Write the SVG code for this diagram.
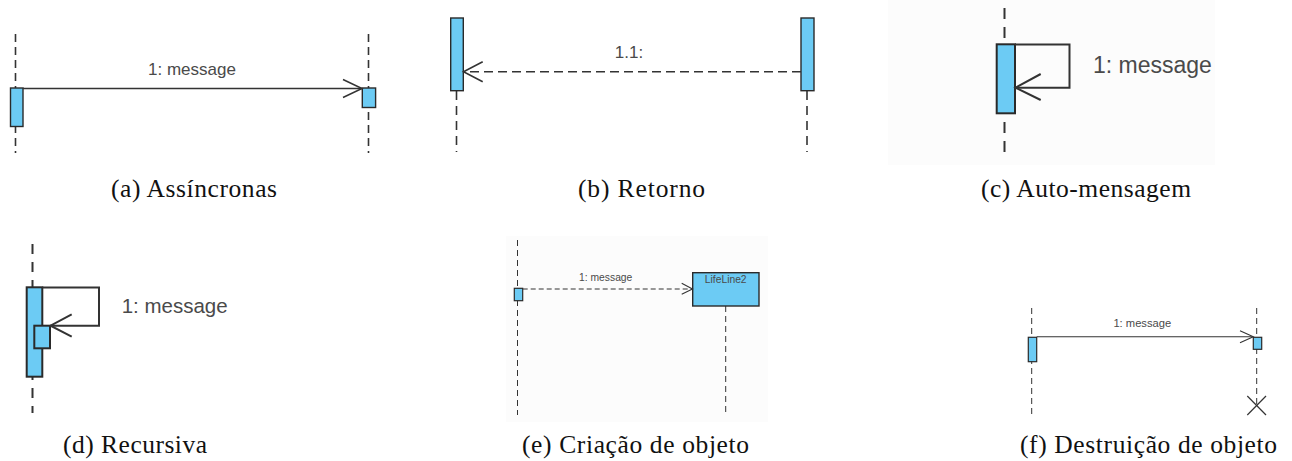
<svg xmlns="http://www.w3.org/2000/svg" width="1292" height="461" viewBox="0 0 1292 461">
<style>
.bg{fill:#fcfcfc;stroke:none}
.act{fill:#6ccbf4;stroke:#2a2a2a}
.ll{fill:none;stroke:#333}
.ln{fill:none;stroke:#333}
.lbl{font-family:"Liberation Sans",Arial,sans-serif;fill:#4a4a4a}
.cap{font-family:"Liberation Serif","DejaVu Serif",serif;font-size:25.5px;fill:#111}
</style>
<rect width="1292" height="461" fill="#ffffff"/>
<g id="backgrounds">
<rect class="bg" x="888" y="0" width="327" height="165"/>
<rect class="bg" x="506" y="236" width="262" height="186"/>
</g>
<!-- Panel a -->
<g id="panel-a">
<g id="a-lifeline1"><line class="ll" x1="15.5" y1="34" x2="15.5" y2="153" stroke-width="1.6" stroke-dasharray="8,5"/><rect class="act" x="10.5" y="88" width="12.5" height="38.5" stroke-width="1.4"/></g>
<g id="a-lifeline2"><line class="ll" x1="368.5" y1="34" x2="368.5" y2="153" stroke-width="1.6" stroke-dasharray="8,5"/><rect class="act" x="362.3" y="88" width="13.3" height="19.5" stroke-width="1.4"/></g>
<g id="a-connectors"><line class="ln" x1="23" y1="88.5" x2="362" y2="88.5" stroke-width="1.5"/><polyline class="ln" points="343,79.5 362,88.5 343,97.5" stroke-width="1.5"/></g>
<text class="lbl" x="192" y="75" font-size="17" text-anchor="middle">1: message</text>
</g>
<!-- Panel b -->
<g id="panel-b">
<g id="b-lifeline1"><line class="ll" x1="456.5" y1="91" x2="456.5" y2="152" stroke-width="1.6" stroke-dasharray="9,6"/><rect class="act" x="450.7" y="18" width="12.6" height="72.7" stroke-width="1.4"/></g>
<g id="b-lifeline2"><line class="ll" x1="807" y1="91" x2="807" y2="152" stroke-width="1.6" stroke-dasharray="9,6"/><rect class="act" x="801" y="18" width="13" height="72.7" stroke-width="1.4"/></g>
<g id="b-connectors"><line class="ln" x1="801" y1="71.7" x2="464" y2="71.7" stroke-width="1.6" stroke-dasharray="9,5"/><polyline class="ln" points="482.7,61.7 463.5,71.7 482.7,81.7" stroke-width="1.6"/></g>
<text class="lbl" x="629" y="58" font-size="17" text-anchor="middle">1.1:</text>
</g>
<!-- Panel c -->
<g id="panel-c">
<g id="c-lifeline"><line class="ll" x1="1004.5" y1="8" x2="1004.5" y2="160" stroke-width="2" stroke-dasharray="11,8"/><rect class="act" x="996.7" y="44.3" width="18.3" height="69" stroke-width="2"/></g>
<g id="c-connectors"><polyline class="ln" points="1015,44.5 1069.5,44.5 1069.5,87.7 1015.5,87.7" stroke-width="2"/><polyline class="ln" points="1040.7,74 1015.5,87.7 1040.7,100" stroke-width="2"/></g>
<text class="lbl" x="1093" y="73" font-size="23">1: message</text>
</g>
<!-- Panel d -->
<g id="panel-d">
<g id="d-lifeline"><line class="ll" x1="32.5" y1="244" x2="32.5" y2="413" stroke-width="2" stroke-dasharray="10,8"/><rect class="act" x="26.7" y="287.3" width="15.6" height="89.4" stroke-width="2"/><rect class="act" x="34.3" y="325.7" width="15.7" height="22.6" stroke-width="2"/></g>
<g id="d-connectors"><polyline class="ln" points="42.3,287.5 99,287.5 99,325.7 50.5,325.7" stroke-width="2"/><polyline class="ln" points="71.7,314.3 50.5,325.7 71.7,336.7" stroke-width="2"/></g>
<text class="lbl" x="121.7" y="313" font-size="20.5">1: message</text>
</g>
<!-- Panel e -->
<g id="panel-e">
<g id="e-lifeline1"><line class="ll" x1="517.5" y1="240" x2="517.5" y2="415" stroke-width="1" stroke-dasharray="6,4"/><rect class="act" x="514.3" y="288.3" width="8.4" height="12.4" stroke-width="1.2"/></g>
<g id="e-lifeline2"><line class="ll" x1="725.7" y1="306" x2="725.7" y2="415" stroke-width="1" stroke-dasharray="6,4"/><rect class="act" x="692.7" y="272.7" width="66.3" height="33.3" stroke-width="1.4"/><text class="lbl" x="725.7" y="283" font-size="10.3" text-anchor="middle" fill="#222">LifeLine2</text></g>
<g id="e-connectors"><line class="ln" x1="522.7" y1="289" x2="692" y2="289" stroke-width="1" stroke-dasharray="5,3"/><polyline class="ln" points="681.7,283.3 692.5,289 681.7,294.3" stroke-width="1.1"/></g>
<text class="lbl" x="605.7" y="280.5" font-size="10.3" text-anchor="middle">1: message</text>
</g>
<!-- Panel f -->
<g id="panel-f">
<g id="f-lifeline1"><line class="ll" x1="1031.7" y1="308" x2="1031.7" y2="415" stroke-width="1" stroke-dasharray="6,4"/><rect class="act" x="1028.3" y="337.3" width="8.4" height="24.4" stroke-width="1.2"/></g>
<g id="f-lifeline2"><line class="ll" x1="1256.7" y1="308" x2="1256.7" y2="405" stroke-width="1" stroke-dasharray="6,4"/><rect class="act" x="1253.3" y="337.3" width="8.4" height="12" stroke-width="1.2"/><line class="ln" x1="1247.3" y1="396" x2="1266" y2="415" stroke-width="1.2"/><line class="ln" x1="1266" y1="396" x2="1247.3" y2="415" stroke-width="1.2"/></g>
<g id="f-connectors"><line class="ln" x1="1036.7" y1="336.7" x2="1253" y2="336.7" stroke-width="1.1"/><polyline class="ln" points="1240,330.7 1253.3,336.7 1240,342.7" stroke-width="1.1"/></g>
<text class="lbl" x="1142.3" y="326.5" font-size="11.2" text-anchor="middle">1: message</text>
</g>
<g id="captions">
<text class="cap" x="111" y="197" textLength="166" lengthAdjust="spacing">(a) Assíncronas</text>
<text class="cap" x="578" y="197" textLength="127" lengthAdjust="spacing">(b) Retorno</text>
<text class="cap" x="981" y="197" textLength="210" lengthAdjust="spacing">(c) Auto-mensagem</text>
<text class="cap" x="63" y="453" textLength="144" lengthAdjust="spacing">(d) Recursiva</text>
<text class="cap" x="522" y="453" textLength="227" lengthAdjust="spacing">(e) Criação de objeto</text>
<text class="cap" x="1020" y="453" textLength="257" lengthAdjust="spacing">(f) Destruição de objeto</text>
</g>
</svg>
